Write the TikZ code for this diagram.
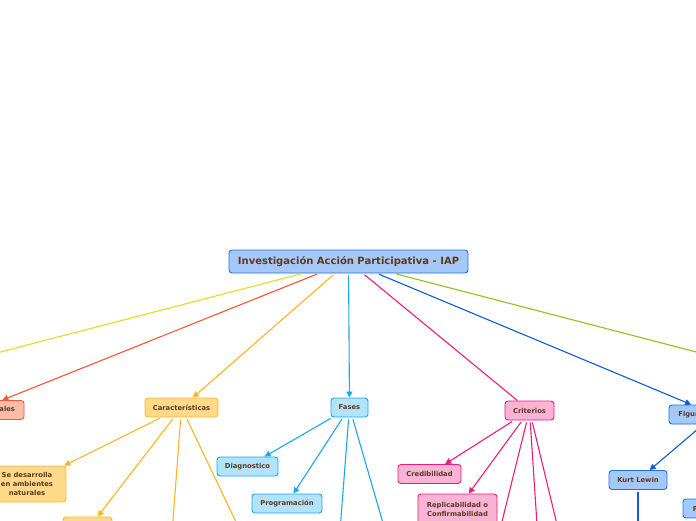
\documentclass[tikz,border=0pt]{standalone}
\usepackage{fontspec}
\setmainfont{DejaVu Sans}
\usetikzlibrary{arrows.meta}
\definecolor{txt}{HTML}{5B3A1E}
\definecolor{rootfill}{HTML}{A6C8F8}
\definecolor{rootdraw}{HTML}{1F6FE5}
\definecolor{yelfill}{HTML}{FED98A}
\definecolor{yeldraw}{HTML}{FBBB2C}
\definecolor{yelline}{HTML}{FCB520}
\definecolor{cyanfill}{HTML}{B3E3FB}
\definecolor{cyandraw}{HTML}{1AA9E6}
\definecolor{pinkfill}{HTML}{F9B3D4}
\definecolor{pinkdraw}{HTML}{ED1E79}
\definecolor{salfill}{HTML}{FBBCAA}
\definecolor{saldraw}{HTML}{F15A35}
\definecolor{lemon}{HTML}{E5DC1A}
\definecolor{lime}{HTML}{8EC21D}
\definecolor{deepblue}{HTML}{0D5ED6}
\tikzset{
  box/.style={draw, rounded corners=3pt, line width=0.9pt, text=txt,
    font=\fontsize{6.8}{9}\selectfont\bfseries, align=center,
    minimum height=19pt, inner xsep=7pt, inner ysep=3pt},
  rootbox/.style={box, fill=rootfill, draw=rootdraw, font=\fontsize{10}{12}\selectfont\bfseries,
    minimum width=239pt, minimum height=23pt},
  yelbox/.style={box, fill=yelfill, draw=yeldraw},
  cyanbox/.style={box, fill=cyanfill, draw=cyandraw},
  pinkbox/.style={box, fill=pinkfill, draw=pinkdraw},
  salbox/.style={box, fill=salfill, draw=saldraw},
  bluebox/.style={box, fill=rootfill, draw=rootdraw},
  link/.style={line width=1.1pt, shorten <=2pt},
  arr/.style={link, -{Triangle[length=6pt,width=6pt]}},
}
\begin{document}
\begin{tikzpicture}[x=1pt,y=-1pt]
\useasboundingbox (0,0) rectangle (696,520);
\fill[white] (0,0) rectangle (696,520);
\clip (0,0) rectangle (696,520);

% nodes
\node[rootbox] (root) at (348.5,261.5) {Investigación Acción Participativa - IAP};
\node[salbox, minimum width=93pt] (gen) at (-22.5,410) {Aspectos generales};
\node[yelbox, minimum width=73pt] (car) at (181.5,407.5) {Características};
\node[cyanbox, minimum width=37pt] (fas) at (349.5,407.5) {Fases};
\node[pinkbox, minimum width=49pt] (cri) at (529.5,410.5) {Criterios};
\node[bluebox, minimum width=92pt] (fig) at (715,414.5) {Figuras principales};

\node[yelbox, minimum width=78pt, minimum height=36pt] (amb) at (27,484) {Se desarrolla\\en ambientes\\naturales};
\node[yelbox, minimum width=49pt, minimum height=26pt] (yb) at (87.5,530) {};
\node[cyanbox, minimum width=61pt] (dia) at (247.5,466.5) {Diagnostico};
\node[cyanbox, minimum width=70pt] (pro) at (287,503.5) {Programación};
\node[pinkbox, minimum width=63pt] (cre) at (429.5,474) {Credibilidad};
\node[pinkbox, minimum width=79pt, minimum height=30pt] (rep) at (457.5,509) {Replicabilidad o\\Confirmabilidad};
\node[bluebox, minimum width=58pt] (kur) at (638,480) {Kurt Lewin};
\node[bluebox, minimum width=66pt] (pnode) at (716,508.5) {Paulo Freire};

% off-picture ends
\coordinate (offA) at (-300,430);
\coordinate (offB) at (1000,431);
\coordinate (car3) at (170,560);
\coordinate (car4) at (255,562);
\coordinate (fas3) at (337,570);
\coordinate (fas4) at (396,568);
\coordinate (cri3) at (490,570);
\coordinate (cri4) at (540,570);
\coordinate (cri5) at (568,570);
\coordinate (kur1) at (638,570);

% connectors
\draw[link, lemon] (root) -- (offA);
\draw[arr, saldraw] (root) -- (gen);
\draw[arr, yelline] (root) -- (car);
\draw[arr, cyandraw] (root) -- (fas);
\draw[link, pinkdraw] (root) -- (cri);
\draw[arr, deepblue] (root) -- (fig);
\draw[link, lime] (root) -- (offB);

\draw[arr, yelline] (car) -- (amb);
\draw[arr, yelline] (car) -- (yb);
\draw[link, yelline] (car) -- (car3);
\draw[link, yelline] (car) -- (car4);

\draw[arr, cyandraw] (fas) -- (dia);
\draw[arr, cyandraw] (fas) -- (pro);
\draw[link, cyandraw] (fas) -- (fas3);
\draw[link, cyandraw] (fas) -- (fas4);

\draw[arr, pinkdraw] (cri) -- (cre);
\draw[arr, pinkdraw] (cri) -- (rep);
\draw[link, pinkdraw] (cri) -- (cri3);
\draw[link, pinkdraw] (cri) -- (cri4);
\draw[link, pinkdraw] (cri) -- (cri5);

\draw[arr, deepblue] (fig) -- (kur);
\draw[arr, deepblue] (fig) -- (pnode);
\draw[link, deepblue] (kur) -- (kur1);
\end{tikzpicture}
\end{document}
